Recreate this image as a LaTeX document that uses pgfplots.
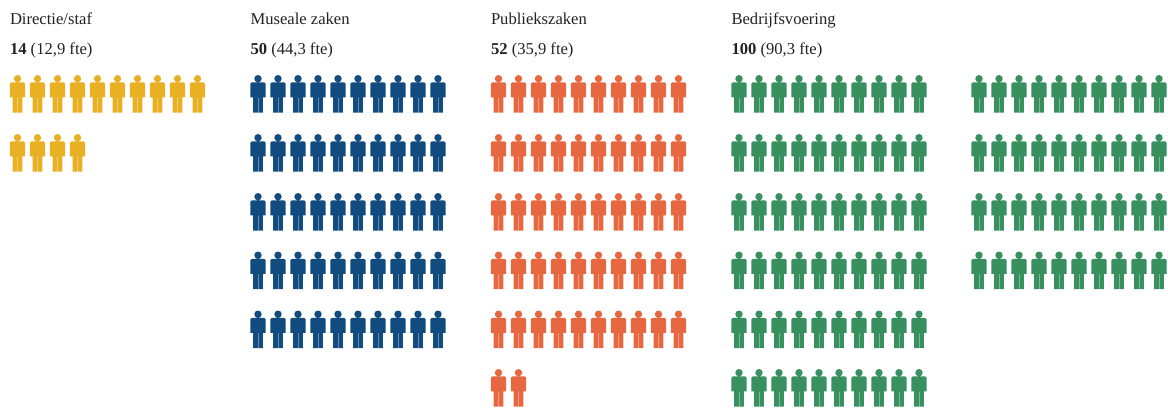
\documentclass[border=0pt]{standalone}
\usepackage{pgfplots}
\pgfplotsset{compat=1.18}
\usepackage{fontspec}
\setmainfont{Liberation Serif}
\definecolor{cgold}{HTML}{E8B023}
\definecolor{cblue}{HTML}{114B7F}
\definecolor{corange}{HTML}{E76840}
\definecolor{cgreen}{HTML}{37905E}
\definecolor{ctext}{HTML}{222222}
\newcommand\Pm[2]{\pgfpathmoveto{\pgfqpoint{#1pt}{#2pt}}}
\newcommand\Pl[2]{\pgfpathlineto{\pgfqpoint{#1pt}{#2pt}}}
\pgfdeclareplotmark{person}{%
  \pgfpathcircle{\pgfqpoint{0pt}{15.3pt}}{3.7pt}%
  \Pm{-6.2}{11.6}\Pl{6.2}{11.6}\Pl{7.7}{10.1}\Pl{7.7}{-3.3}\Pl{5.2}{-3.3}\Pl{5.2}{5.5}\Pl{4.9}{5.5}%
  \Pl{4.9}{-18.7}\Pl{0.25}{-18.7}\Pl{0.25}{-3.5}\Pl{-0.25}{-3.5}\Pl{-0.25}{-18.7}\Pl{-4.9}{-18.7}%
  \Pl{-4.9}{5.5}\Pl{-5.2}{5.5}\Pl{-5.2}{-3.3}\Pl{-7.7}{-3.3}\Pl{-7.7}{10.1}\pgfpathclose
  \pgfusepathqfill}
\pgfplotsset{people/.style={only marks,mark=person,mark size=1pt,
  mark options={draw=none,fill=#1},forget plot}}
\tikzset{lab/.style={text=ctext,font=\fontsize{16.6}{18}\selectfont,anchor=base west,inner sep=0pt,outer sep=0pt}}
\begin{document}
\begin{tikzpicture}
\begin{axis}[scale only axis,width=1168pt,height=408pt,xmin=0,xmax=1168,ymin=0,ymax=408,
  y dir=reverse,hide axis,clip=false]
\addplot[people=cgold] coordinates {
(17.5,94)(37.5,94)(57.5,94)(77.5,94)(97.5,94)(117.5,94)(137.5,94)(157.5,94)(177.5,94)(197.5,94)
(17.5,153)(37.5,153)(57.5,153)(77.5,153)};
\addplot[people=cblue] coordinates {
(258,94)(278,94)(298,94)(318,94)(338,94)(358,94)(378,94)(398,94)(418,94)(438,94)
(258,153)(278,153)(298,153)(318,153)(338,153)(358,153)(378,153)(398,153)(418,153)(438,153)
(258,212)(278,212)(298,212)(318,212)(338,212)(358,212)(378,212)(398,212)(418,212)(438,212)
(258,270.5)(278,270.5)(298,270.5)(318,270.5)(338,270.5)(358,270.5)(378,270.5)(398,270.5)(418,270.5)(438,270.5)
(258,329.5)(278,329.5)(298,329.5)(318,329.5)(338,329.5)(358,329.5)(378,329.5)(398,329.5)(418,329.5)(438,329.5)};
\addplot[people=corange] coordinates {
(498.5,94)(518.5,94)(538.5,94)(558.5,94)(578.5,94)(598.5,94)(618.5,94)(638.5,94)(658.5,94)(678.5,94)
(498.5,153)(518.5,153)(538.5,153)(558.5,153)(578.5,153)(598.5,153)(618.5,153)(638.5,153)(658.5,153)(678.5,153)
(498.5,212)(518.5,212)(538.5,212)(558.5,212)(578.5,212)(598.5,212)(618.5,212)(638.5,212)(658.5,212)(678.5,212)
(498.5,270.5)(518.5,270.5)(538.5,270.5)(558.5,270.5)(578.5,270.5)(598.5,270.5)(618.5,270.5)(638.5,270.5)(658.5,270.5)(678.5,270.5)
(498.5,329.5)(518.5,329.5)(538.5,329.5)(558.5,329.5)(578.5,329.5)(598.5,329.5)(618.5,329.5)(638.5,329.5)(658.5,329.5)(678.5,329.5)
(498.5,388)(518.5,388)};
\addplot[people=cgreen] coordinates {
(739,94)(759,94)(779,94)(799,94)(819,94)(839,94)(859,94)(879,94)(899,94)(919,94)
(739,153)(759,153)(779,153)(799,153)(819,153)(839,153)(859,153)(879,153)(899,153)(919,153)
(739,212)(759,212)(779,212)(799,212)(819,212)(839,212)(859,212)(879,212)(899,212)(919,212)
(739,270.5)(759,270.5)(779,270.5)(799,270.5)(819,270.5)(839,270.5)(859,270.5)(879,270.5)(899,270.5)(919,270.5)
(739,329.5)(759,329.5)(779,329.5)(799,329.5)(819,329.5)(839,329.5)(859,329.5)(879,329.5)(899,329.5)(919,329.5)
(739,388)(759,388)(779,388)(799,388)(819,388)(839,388)(859,388)(879,388)(899,388)(919,388)
(979,94)(999,94)(1019,94)(1039,94)(1059,94)(1079,94)(1099,94)(1119,94)(1139,94)(1159,94)
(979,153)(999,153)(1019,153)(1039,153)(1059,153)(1079,153)(1099,153)(1119,153)(1139,153)(1159,153)
(979,212)(999,212)(1019,212)(1039,212)(1059,212)(1079,212)(1099,212)(1119,212)(1139,212)(1159,212)
(979,270.5)(999,270.5)(1019,270.5)(1039,270.5)(1059,270.5)(1079,270.5)(1099,270.5)(1119,270.5)(1139,270.5)(1159,270.5)};
\node[lab] at (axis cs:10,24) {Directie/staf};
\node[lab] at (axis cs:10,54) {\textbf{14} (12,9 fte)};
\node[lab] at (axis cs:250.5,24) {Museale zaken};
\node[lab] at (axis cs:250.5,54) {\textbf{50} (44,3 fte)};
\node[lab] at (axis cs:491,24) {Publiekszaken};
\node[lab] at (axis cs:491,54) {\textbf{52} (35,9 fte)};
\node[lab] at (axis cs:731.5,24) {Bedrijfsvoering};
\node[lab] at (axis cs:731.5,54) {\textbf{100} (90,3 fte)};
\path (axis cs:0,0) rectangle (axis cs:1168,408);
\end{axis}
\end{tikzpicture}
\end{document}
